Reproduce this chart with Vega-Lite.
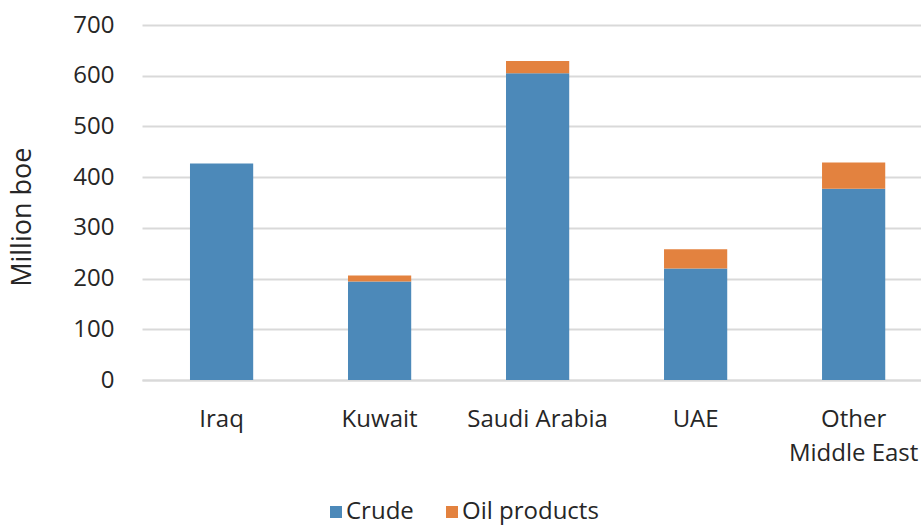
{
  "$schema": "https://vega.github.io/schema/vega-lite/v6.json",
  "autosize": {"type": "none"},
  "width": 779,
  "height": 355,
  "padding": {"left": 142, "top": 25, "right": 0, "bottom": 148},
  "background": "white",
  "config": {
    "view": {"stroke": null},
    "font": "Open Sans"
  },
  "data": {
    "values": [
      {"region": "Iraq", "type": "Crude", "value": 427},
      {"region": "Iraq", "type": "Oil products", "value": 0},
      {"region": "Kuwait", "type": "Crude", "value": 194},
      {"region": "Kuwait", "type": "Oil products", "value": 12},
      {"region": "Saudi Arabia", "type": "Crude", "value": 605},
      {"region": "Saudi Arabia", "type": "Oil products", "value": 24},
      {"region": "UAE", "type": "Crude", "value": 220},
      {"region": "UAE", "type": "Oil products", "value": 38},
      {"region": "Other Middle East", "type": "Crude", "value": 377},
      {"region": "Other Middle East", "type": "Oil products", "value": 52}
    ]
  },
  "mark": {"type": "bar"},
  "encoding": {
    "x": {
      "field": "region",
      "type": "nominal",
      "sort": ["Iraq", "Kuwait", "Saudi Arabia", "UAE", "Other Middle East"],
      "scale": {"paddingInner": 0.6, "paddingOuter": 0.265, "align": 0.573},
      "axis": {
        "title": null,
        "labelAngle": 0,
        "labelFontSize": 24,
        "labelColor": "#262626",
        "labelPadding": 27,
        "labelLineHeight": 34,
        "labelExpr": "datum.label == 'Other Middle East' ? ['Other', 'Middle East'] : datum.label",
        "ticks": false,
        "domain": true,
        "domainColor": "#d9d9d9",
        "domainWidth": 2,
        "grid": false
      }
    },
    "y": {
      "field": "value",
      "type": "quantitative",
      "stack": "zero",
      "scale": {"domain": [0, 700], "nice": false},
      "axis": {
        "title": "Million boe",
        "titleFontSize": 27,
        "titleFontWeight": "normal",
        "titleColor": "#262626",
        "titleAngle": -90,
        "titleAlign": "center",
        "titleBaseline": "middle",
        "titleX": -119.5,
        "titleY": 191.7,
        "values": [0, 100, 200, 300, 400, 500, 600, 700],
        "labelFontSize": 24,
        "labelColor": "#262626",
        "labelPadding": 28,
        "ticks": false,
        "domain": false,
        "grid": true,
        "gridColor": "#d9d9d9",
        "gridWidth": 2
      }
    },
    "color": {
      "field": "type",
      "type": "nominal",
      "scale": {"domain": ["Crude", "Oil products"], "range": ["#4c89b9", "#e3823f"]},
      "legend": {
        "title": null,
        "orient": "none",
        "direction": "horizontal",
        "legendX": 182,
        "legendY": 475,
        "symbolType": "square",
        "symbolSize": 144,
        "symbolStrokeWidth": 0,
        "symbolOpacity": 1,
        "labelFontSize": 24,
        "labelColor": "#262626",
        "labelOffset": -2,
        "columnPadding": 26
      }
    },
    "order": {"field": "type", "sort": "ascending"}
  }
}
